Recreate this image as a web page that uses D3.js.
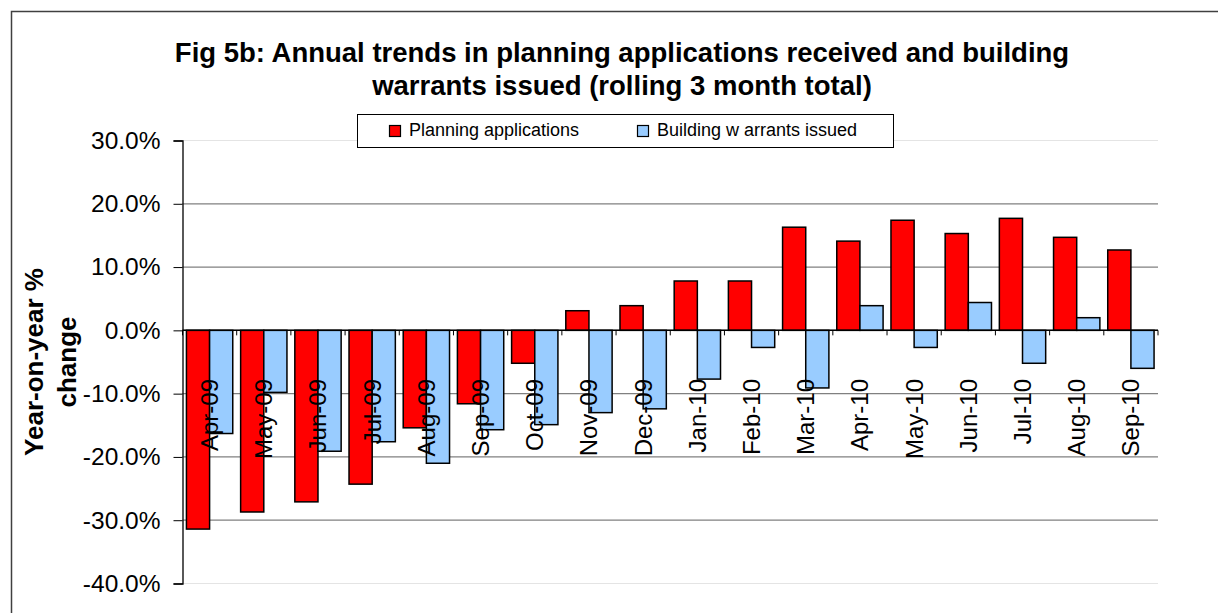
<!DOCTYPE html>
<html>
<head>
<meta charset="utf-8">
<script src="https://cdn.jsdelivr.net/npm/d3@7/dist/d3.min.js"></script>
<style>
    html, body { margin:0; padding:0; background:#fff; }
    svg { display:block; font-family:"Liberation Sans", Arial, sans-serif; }
</style>
</head>
<body>
<div id="chart"></div>
<script>
// data
var categories = ['Apr-09','May-09','Jun-09','Jul-09','Aug-09','Sep-09','Oct-09','Nov-09','Dec-09',
                  'Jan-10','Feb-10','Mar-10','Apr-10','May-10','Jun-10','Jul-10','Aug-10','Sep-10'];
var planning = [-31.4, -28.7, -27.1, -24.3, -15.4, -11.6, -5.2, 3.1, 3.9,
                7.8, 7.8, 16.3, 14.1, 17.4, 15.3, 17.7, 14.7, 12.7];
var warrants = [-16.3, -9.8, -19.1, -17.6, -21.0, -15.7, -14.9, -13.0, -12.4,
                -7.7, -2.7, -9.1, 3.9, -2.7, 4.4, -5.2, 2.0, -6.0];
var seriesNames = ['Planning applications', 'Building w arrants issued'];
var seriesColors = ['#ff0000', '#99ccff'];
var yTicks = [-40, -30, -20, -10, 0, 10, 20, 30];
var titleLines = ['Fig 5b: Annual trends in planning applications received and building',
                  'warrants issued (rolling 3 month total)'];
var yTitleLines = ['Year-on-year %', 'change'];

var width = 1218, height = 613;
var plot = {left:182.5, right:1158, top:140.5, bottom:583.5};

var svg = d3.select('#chart').append('svg')
    .attr('width', width)
    .attr('height', height);

// outer frame
svg.append('rect')
    .attr('x', 11.5).attr('y', 11.5)
    .attr('width', 1400).attr('height', 800)
    .style('fill', 'none')
    .style('stroke', '#404040')
    .style('stroke-width', 1.5);

// scales
var x0 = d3.scaleBand().domain(categories).range([plot.left, plot.right]).padding(0);
var x1 = d3.scaleBand().domain([0, 1]).range([0, x0.bandwidth()]).paddingInner(0).paddingOuter(0.17);
var y = d3.scaleLinear().domain([-40, 30]).range([plot.bottom, plot.top]);

// grid
svg.append('g').selectAll('line')
    .data(yTicks)
    .enter().append('line')
    .attr('x1', plot.left).attr('x2', plot.right)
    .attr('y1', function(d){ return y(d); })
    .attr('y2', function(d){ return y(d); })
    .style('stroke', function(d){ return (d === 30 || d === -40) ? '#e4e4e4' : '#808080'; })
    .style('stroke-width', 1.2);

// bars
var rows = categories.map(function(c, i){
    return {cat:c, values:[planning[i], warrants[i]]};
});
var $groups = svg.append('g').selectAll('g')
    .data(rows)
    .enter().append('g')
    .attr('transform', function(d){ return 'translate(' + x0(d.cat) + ',0)'; });
$groups.selectAll('rect')
    .data(function(d){ return d.values.map(function(v, j){ return {v:v, s:j}; }); })
    .enter().append('rect')
    .attr('x', function(d){ return x1(d.s); })
    .attr('width', x1.bandwidth())
    .attr('y', function(d){ return y(Math.max(0, d.v)); })
    .attr('height', function(d){ return Math.abs(y(d.v) - y(0)); })
    .style('fill', function(d){ return seriesColors[d.s]; })
    .style('stroke', '#000')
    .style('stroke-width', 1.5);

// zero line + x ticks
svg.append('line')
    .attr('x1', plot.left).attr('x2', plot.right)
    .attr('y1', y(0)).attr('y2', y(0))
    .style('stroke', '#000').style('stroke-width', 1.5);
var boundaries = categories.map(function(c){ return x0(c); }).concat([plot.right]);
svg.append('g').selectAll('line')
    .data(boundaries)
    .enter().append('line')
    .attr('x1', function(d){ return d; }).attr('x2', function(d){ return d; })
    .attr('y1', y(0)).attr('y2', y(0) + 5)
    .style('stroke', '#000').style('stroke-width', 1);

// x labels (rotated, drawn on top of bars)
var axisX = d3.axisBottom(x0).tickSize(0);
var $axisX = svg.append('g')
    .attr('transform', 'translate(0,' + y(0) + ')')
    .call(axisX);
$axisX.select('.domain').remove();
$axisX.selectAll('text')
    .attr('transform', 'rotate(-90)')
    .attr('x', -(379 - y(0)))
    .attr('y', 0)
    .attr('dy', '0.35em')
    .attr('text-anchor', 'end')
    .style('font-size', '24px')
    .style('font-family', '"Liberation Sans", Arial, sans-serif')
    .style('fill', '#000');

// y axis
var axisY = d3.axisLeft(y)
    .tickValues(yTicks)
    .tickSize(9)
    .tickPadding(13)
    .tickFormat(function(d){ return d.toFixed(1) + '%'; });
var $axisY = svg.append('g')
    .attr('transform', 'translate(' + plot.left + ',0)')
    .call(axisY);
$axisY.select('.domain').style('stroke', '#000').style('stroke-width', 1.3);
$axisY.selectAll('line').style('stroke', '#000');
$axisY.selectAll('text')
    .style('font-size', '24.5px')
    .style('font-family', '"Liberation Sans", Arial, sans-serif')
    .style('fill', '#000');

// y axis title
var $yTitle = svg.append('text')
    .attr('transform', 'translate(43,362) rotate(-90)')
    .attr('text-anchor', 'middle')
    .style('font-size', '26px')
    .style('font-weight', 'bold');
yTitleLines.forEach(function(t, i){
    $yTitle.append('tspan').attr('x', 0).attr('y', i * 33).text(t);
});

// title
svg.append('g').selectAll('text')
    .data(titleLines)
    .enter().append('text')
    .attr('x', 622)
    .attr('y', function(d, i){ return 62 + i * 33; })
    .attr('text-anchor', 'middle')
    .style('font-size', '27.5px')
    .style('font-weight', 'bold')
    .text(function(d){ return d; });

// legend
var $legend = svg.append('g');
$legend.append('rect')
    .attr('x', 357.5).attr('y', 114.5)
    .attr('width', 536).attr('height', 33)
    .style('fill', '#fff').style('stroke', '#000').style('stroke-width', 1);
var legendX = [389, 637];
seriesNames.forEach(function(name, i){
    $legend.append('rect')
        .attr('x', legendX[i] + 0.5).attr('y', 125.5)
        .attr('width', 11).attr('height', 11)
        .style('fill', seriesColors[i]).style('stroke', '#000').style('stroke-width', 1.2);
    $legend.append('text')
        .attr('x', legendX[i] + 20)
        .attr('y', 136)
        .style('font-size', '18px')
        .text(name);
});
</script>
</body>
</html>
